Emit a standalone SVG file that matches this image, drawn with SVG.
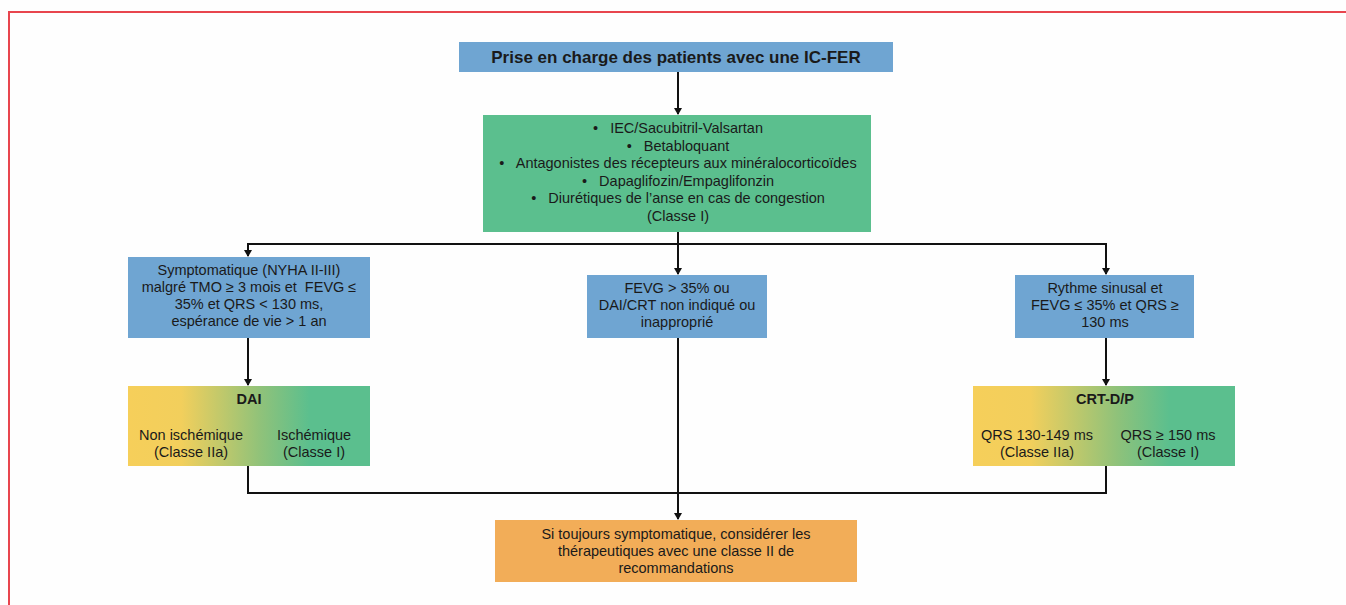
<svg xmlns="http://www.w3.org/2000/svg" width="1346" height="605" viewBox="0 0 1346 605">
<style>
text{font-family:"Liberation Sans",Arial,sans-serif;font-size:14.5px;fill:#1a1a1a;text-anchor:middle}
.b{font-weight:bold}
.blue{fill:#6fa5d2}
.green{fill:#5bbf8e}
.orange{fill:#f2ad58}
.ln{stroke:#111;stroke-width:2;fill:none}
</style>
<defs>
<marker id="ah" markerWidth="8" markerHeight="8" refX="6" refY="4" orient="auto" markerUnits="userSpaceOnUse"><path d="M0,0 L7,4 L0,8 Z" fill="#111"/></marker>
<linearGradient id="gr" x1="0" y1="0" x2="1" y2="0">
<stop offset="0" stop-color="#f6cf5a"/>
<stop offset="0.22" stop-color="#f2cf5c"/>
<stop offset="0.55" stop-color="#8fc27a"/>
<stop offset="0.75" stop-color="#5bbf8e"/>
<stop offset="1" stop-color="#5bbf8e"/>
</linearGradient>
</defs>
<rect x="0" y="0" width="1346" height="605" fill="#fefefe"/>
<path d="M9,605 V12 H1346" stroke="#e8454e" stroke-width="2" fill="none"/>

<g id="connectors">
<line class="ln" x1="678" y1="72" x2="678" y2="114" marker-end="url(#ah)"/>
<line class="ln" x1="678" y1="232" x2="678" y2="244"/>
<polyline class="ln" points="248,244 1106,244 1106,274" marker-end="url(#ah)"/>
<line class="ln" x1="248" y1="243" x2="248" y2="256" marker-end="url(#ah)"/>
<line class="ln" x1="678" y1="244" x2="678" y2="274" marker-end="url(#ah)"/>
<line class="ln" x1="248" y1="338" x2="248" y2="385" marker-end="url(#ah)"/>
<line class="ln" x1="1106" y1="338" x2="1106" y2="385" marker-end="url(#ah)"/>
<polyline class="ln" points="248,466 248,493 1106,493 1106,466"/>
<line class="ln" x1="678" y1="338" x2="678" y2="519" marker-end="url(#ah)"/>
</g>

<g id="n-title">
<rect class="blue" x="459" y="42" width="434" height="30"/>
<text class="b" x="676" y="63" style="font-size:17px">Prise en charge des patients avec une IC-FER</text>
</g>

<g id="n-treat">
<rect class="green" x="483" y="115" width="388" height="117"/>
<text x="678" y="133" xml:space="preserve">•   IEC/Sacubitril-Valsartan</text>
<text x="678" y="151" xml:space="preserve">•   Betabloquant</text>
<text x="678" y="168" xml:space="preserve">•   Antagonistes des récepteurs aux minéralocorticoïdes</text>
<text x="678" y="186" xml:space="preserve">•   Dapaglifozin/Empaglifonzin</text>
<text x="678" y="203" xml:space="preserve">•   Diurétiques de l’anse en cas de congestion</text>
<text x="678" y="221">(Classe I)</text>
</g>

<g id="n-sympt">
<rect class="blue" x="128" y="257" width="242" height="81"/>
<text x="249" y="275">Symptomatique (NYHA II-III)</text>
<text x="249" y="292" xml:space="preserve">malgré TMO ≥ 3 mois et  FEVG ≤</text>
<text x="249" y="309">35% et QRS &lt; 130 ms,</text>
<text x="249" y="326">espérance de vie &gt; 1 an</text>
</g>

<g id="n-fevg">
<rect class="blue" x="587" y="275" width="180" height="63"/>
<text x="677" y="293">FEVG &gt; 35% ou</text>
<text x="677" y="310">DAI/CRT non indiqué ou</text>
<text x="677" y="327">inapproprié</text>
</g>

<g id="n-rythme">
<rect class="blue" x="1015" y="275" width="179" height="63"/>
<text x="1105" y="293">Rythme sinusal et</text>
<text x="1105" y="310">FEVG ≤ 35% et QRS ≥</text>
<text x="1105" y="327">130 ms</text>
</g>

<g id="n-dai">
<rect fill="url(#gr)" x="128" y="386" width="242" height="80"/>
<text class="b" x="249" y="404">DAI</text>
<text x="191" y="440">Non ischémique</text>
<text x="191" y="457">(Classe IIa)</text>
<text x="314" y="440">Ischémique</text>
<text x="314" y="457">(Classe I)</text>
</g>

<g id="n-crt">
<rect fill="url(#gr)" x="973" y="386" width="262" height="80"/>
<text class="b" x="1105" y="404">CRT-D/P</text>
<text x="1037" y="440">QRS 130-149 ms</text>
<text x="1037" y="457">(Classe IIa)</text>
<text x="1168" y="440">QRS ≥ 150 ms</text>
<text x="1168" y="457">(Classe I)</text>
</g>

<g id="n-final">
<rect class="orange" x="495" y="520" width="362" height="62"/>
<text x="676" y="539">Si toujours symptomatique, considérer les</text>
<text x="676" y="556">thérapeutiques avec une classe II de</text>
<text x="676" y="573">recommandations</text>
</g>
</svg>
